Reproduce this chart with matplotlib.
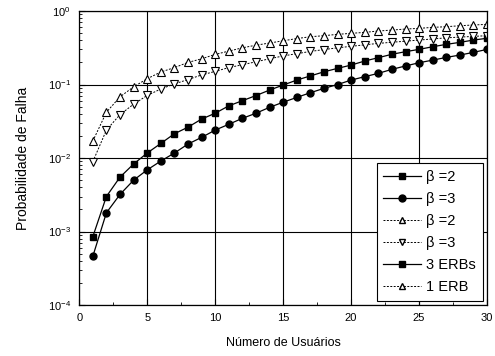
import numpy as np
import matplotlib
matplotlib.use('Agg')
import matplotlib.pyplot as plt
from matplotlib.lines import Line2D
from matplotlib.ticker import LogLocator, MultipleLocator, NullFormatter

plt.rcParams['font.family'] = ['Liberation Sans', 'DejaVu Sans']

usuarios = np.arange(1, 31)

# 3 ERBs
erb3_b2 = [0.00085, 0.0030, 0.0055, 0.0083, 0.0117, 0.0158, 0.0214, 0.0263, 0.0339, 0.0407,
           0.0513, 0.0603, 0.0708, 0.0841, 0.0984, 0.115, 0.131, 0.149, 0.166, 0.184,
           0.209, 0.232, 0.258, 0.280, 0.301, 0.327, 0.352, 0.375, 0.403, 0.426]
erb3_b3 = [0.00046, 0.0018, 0.0032, 0.0050, 0.0069, 0.0091, 0.0117, 0.0155, 0.0191, 0.0240,
           0.0288, 0.0347, 0.0407, 0.0490, 0.0575, 0.0668, 0.0774, 0.0887, 0.100, 0.115,
           0.128, 0.142, 0.161, 0.179, 0.198, 0.215, 0.234, 0.252, 0.274, 0.301]
# 1 ERB
erb1_b2 = [0.017, 0.042, 0.068, 0.093, 0.120, 0.148, 0.170, 0.200, 0.224, 0.257,
           0.285, 0.316, 0.343, 0.367, 0.394, 0.422, 0.447, 0.462, 0.482, 0.497,
           0.513, 0.535, 0.551, 0.569, 0.581, 0.600, 0.612, 0.631, 0.646, 0.659]
erb1_b3 = [0.0089, 0.024, 0.039, 0.054, 0.071, 0.087, 0.102, 0.117, 0.135, 0.151,
           0.170, 0.186, 0.204, 0.224, 0.245, 0.263, 0.282, 0.299, 0.316, 0.331,
           0.347, 0.363, 0.376, 0.389, 0.403, 0.417, 0.432, 0.442, 0.452, 0.462]

fig = plt.figure(figsize=(4.95, 3.56), dpi=100)
ax = fig.add_axes([0.160, 0.143, 0.824, 0.826])

ax.plot(usuarios, erb3_b2, 'k-', marker='s', ms=5, lw=0.9)
ax.plot(usuarios, erb3_b3, 'k-', marker='o', ms=5, lw=0.9)
ax.plot(usuarios, erb1_b2, 'k', ls=(0, (2, 1.5)), marker='^', ms=6, mfc='white', lw=0.7, mew=0.8)
ax.plot(usuarios, erb1_b3, 'k', ls=(0, (2, 1.5)), marker='v', ms=6, mfc='white', lw=0.7, mew=0.8)

ax.set_yscale('log')
ax.set_xlim(0, 30)
ax.set_ylim(1e-4, 1)
ax.xaxis.set_major_locator(MultipleLocator(5))
ax.xaxis.set_minor_locator(MultipleLocator(2.5))
ax.yaxis.set_major_locator(LogLocator(base=10, numticks=10))
ax.yaxis.set_minor_locator(LogLocator(base=10, subs=np.arange(2, 10), numticks=10))
ax.yaxis.set_minor_formatter(NullFormatter())
ax.grid(True, which='major', color='black', lw=0.8)
ax.tick_params(which='both', direction='in', top=False, right=False, labelsize=8)
ax.tick_params(axis='x', which='major', length=4, pad=6)
ax.tick_params(axis='y', which='major', length=4, pad=6)
ax.tick_params(which='minor', length=2)
for s in ax.spines.values():
    s.set_linewidth(0.9)

ax.set_xlabel('Número de Usuários', fontsize=9, labelpad=10)
ax.set_ylabel('Probabilidade de Falha', fontsize=10, labelpad=13)

handles = [
    Line2D([], [], color='k', marker='s', ms=5, lw=0.9),
    Line2D([], [], color='k', marker='o', ms=5, lw=0.9),
    Line2D([], [], color='k', ls=(0, (2, 1.5)), marker='^', ms=5, mfc='white', lw=0.7),
    Line2D([], [], color='k', ls=(0, (2, 1.5)), marker='v', ms=5, mfc='white', lw=0.7),
    Line2D([], [], color='k', marker='s', ms=5, lw=0.9),
    Line2D([], [], color='k', ls=(0, (2, 1.5)), marker='^', ms=5, mfc='white', lw=0.7),
]
labels = ['β =2', 'β =3', 'β =2', 'β =3', '3 ERBs', '1 ERB']
leg = ax.legend(handles, labels, loc='lower right', fontsize=10.5, fancybox=False,
                edgecolor='black', framealpha=1, handlelength=2.6, labelspacing=0.55,
                borderaxespad=0.3, handletextpad=0.35, borderpad=0.45)
leg.get_frame().set_linewidth(0.8)

fig.savefig('out.png', dpi=100)
